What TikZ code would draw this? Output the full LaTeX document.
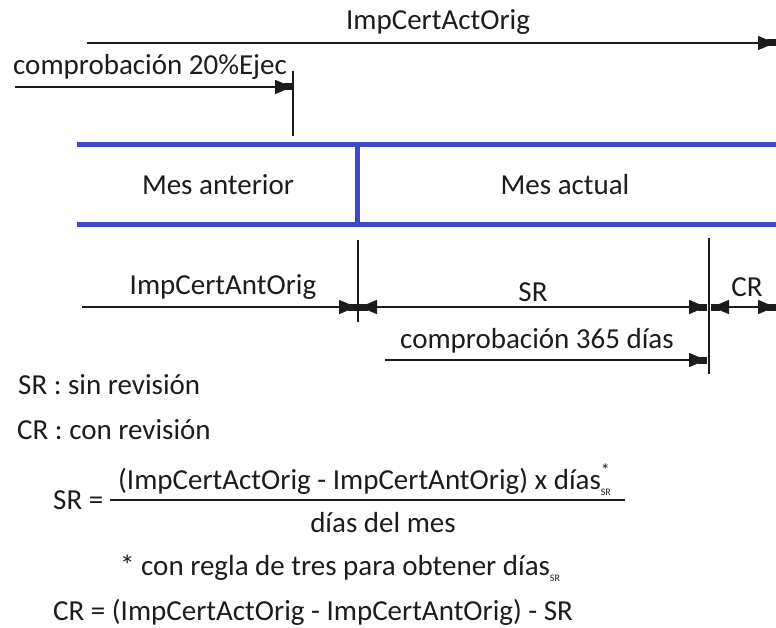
\documentclass[tikz,border=0pt]{standalone}
\usepackage{fontspec}
\setmainfont{Carlito}
\usetikzlibrary{positioning, arrows.meta}
\definecolor{mesblue}{RGB}{64,72,200}
\definecolor{inkgray}{RGB}{28,28,28}
\newcommand{\subsr}{\raisebox{-0.2em}{\fontsize{10}{10}\selectfont SR}}
\newcommand{\supsubsr}{\makebox[0pt][l]{\raisebox{0.45em}{\fontsize{18}{18}\selectfont *}}\subsr}
\tikzset{
  visio/.tip={Triangle[length=17pt,width=14pt,sep=-8pt] Rectangle[length=9pt,width=7pt]},
  dimline/.style={line width=1.5pt, draw=inkgray},
  dimarrow/.style={dimline, -{visio}},
  dimboth/.style={dimline, {visio}-{visio}},
  monthline/.style={line width=5pt, draw=mesblue},
  lbl/.style={inner sep=0pt, font=\fontsize{29}{34}\selectfont, text=inkgray},
  note/.style={lbl, anchor=west}
}
\begin{document}
\begin{tikzpicture}[x=1pt, y=-1pt]
\useasboundingbox (0,0) rectangle (776,628);
% importe certificado actual
\coordinate (actL) at (87,43);
\coordinate (actR) at (776,43);
\draw[dimarrow] (actL) -- (actR);
\node[lbl] (lblAct) at (438,22) {ImpCertActOrig};
% comprobacion 20%
\coordinate (ejecL) at (15,87);
\coordinate (ejecR) at (293,87);
\coordinate (ejecTop) at (293,71);
\coordinate (ejecBot) at (293,136);
\draw[dimline] (ejecTop) -- (ejecBot);
\draw[dimarrow] (ejecL) -- (ejecR);
\node[note] (lblEjec) at (13,67) {comprobación 20\%Ejec};
% meses
\coordinate (topL) at (77,145);
\coordinate (topR) at (776,145);
\coordinate (botL) at (77,225);
\coordinate (botR) at (776,225);
\coordinate (divTop) at (357,145);
\coordinate (divBot) at (357,225);
\draw[monthline] (topL) -- (topR);
\draw[monthline] (botL) -- (botR);
\draw[monthline] (divTop) -- (divBot);
\node[lbl] (mesAnt) at (218,185) {Mes anterior};
\node[lbl] (mesAct) at (565,185) {Mes actual};
% cotas inferiores
\coordinate (corteTop) at (358,240);
\coordinate (corteBot) at (358,322);
\coordinate (revTop) at (709,238);
\coordinate (revBot) at (709,374);
\draw[dimline] (corteTop) -- (corteBot);
\draw[dimline] (revTop) -- (revBot);
\coordinate (antL) at (82,307);
\coordinate (antR) at (357,307);
\coordinate (srL) at (359,307);
\coordinate (srR) at (707,307);
\coordinate (crL) at (711,307);
\coordinate (crR) at (776,307);
\draw[dimarrow] (antL) -- (antR);
\draw[dimboth] (srL) -- (srR);
\draw[dimboth] (crL) -- (crR);
\node[lbl] (lblAnt) at (223,287) {ImpCertAntOrig};
\node[lbl] (lblSR) at (533,292) {SR};
\node[lbl] (lblCR) at (747,287) {CR};
\coordinate (diasL) at (385,360);
\coordinate (diasR) at (707,360);
\draw[dimarrow] (diasL) -- (diasR);
\node[lbl] (lbl365) at (537,341) {comprobación 365 días};
% leyenda y formulas
\node[note] (noteSR) at (18,385) {SR : sin revisión};
\node[note] (noteCR) at (17,430) {CR : con revisión};
\node[note] (fracLHS) at (53,500) {SR =};
\node[note] (fracNum) at (118,480) {(ImpCertActOrig - ImpCertAntOrig) x días\supsubsr};
\coordinate (fracL) at (110,500);
\coordinate (fracR) at (625,500);
\draw[dimline] (fracL) -- (fracR);
\node[lbl] (fracDen) at (383,523) {días del mes};
\node[note] (fracNote) at (120,568) {* con regla de tres para obtener días\subsr};
\node[note] (crFormula) at (53,612) {CR = (ImpCertActOrig - ImpCertAntOrig) - SR};
\end{tikzpicture}
\end{document}
